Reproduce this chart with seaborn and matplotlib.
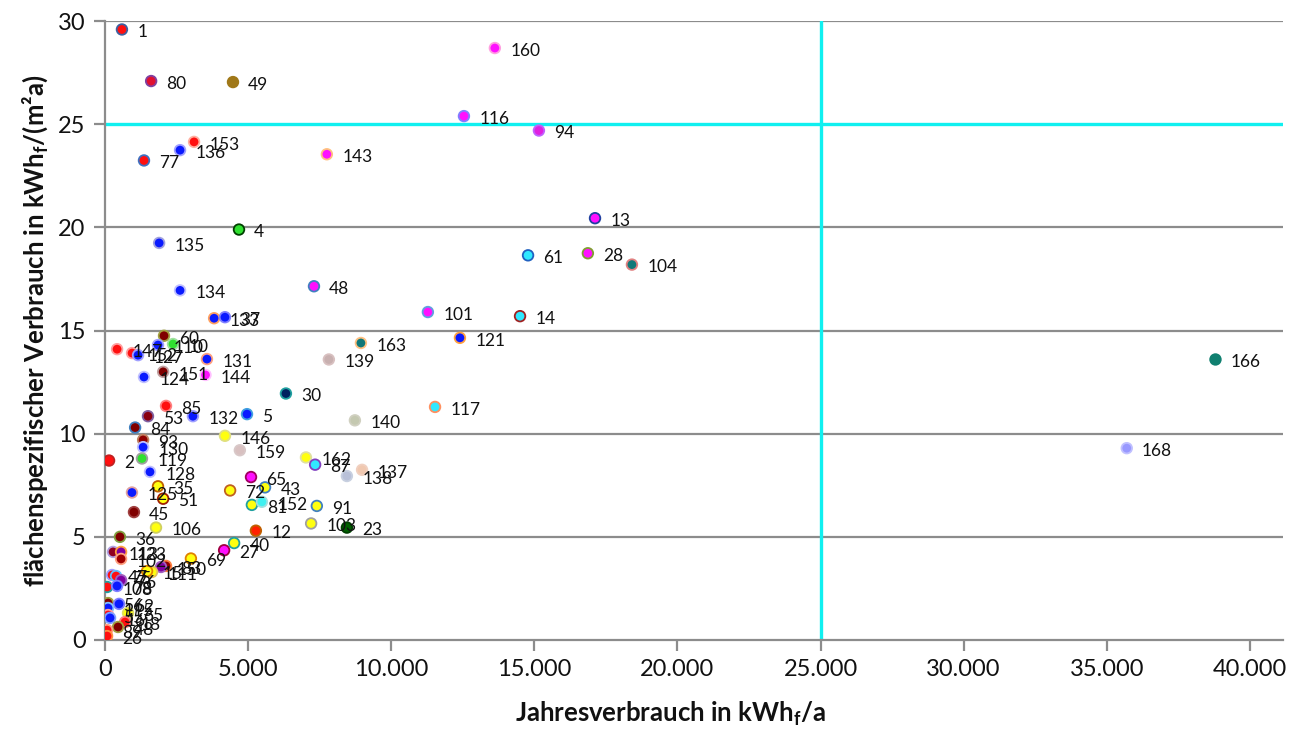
import matplotlib
matplotlib.use("Agg")
import matplotlib.pyplot as plt
import seaborn as sns
import pandas as pd
from matplotlib.ticker import FuncFormatter, MultipleLocator

# ---------------- data ----------------
labels = ["1", "80", "49", "160", "116", "94", "153", "136", "77", "143",
          "4", "135", "13", "61", "28", "104", "134", "48", "133", "37",
          "101", "14", "121", "163", "139", "166", "168", "117", "30", "140",
          "5", "132", "85", "53", "84", "60", "147", "152", "127", "110",
          "10", "131", "124", "151", "144", "146", "159", "93", "130", "2",
          "119", "128", "65", "35", "125", "51", "72", "43", "81", "152",
          "45", "106", "12", "40", "27", "69", "36", "162", "87", "138",
          "137", "91", "103", "23", "113", "123", "102", "83", "150", "111",
          "15", "47", "75", "76", "108", "78", "56", "62", "115", "55",
          "16", "65", "18", "48", "89", "26"]
verbrauch = [590, 1610, 4470, 13620, 12540, 15160, 3110, 2620, 1360, 7750,
             4680, 1890, 17120, 14780, 16870, 18410, 2620, 7300, 3810, 4190,
             11280, 14500, 12400, 8940, 7820, 38800, 35700, 11530, 6320, 8730,
             4960, 3070, 2130, 1500, 1050, 2060, 420, 943, 1153, 1851,
             2375, 3560, 1360, 2030, 3510, 4190, 4710, 1330, 1330, 140,
             1290, 1570, 5100, 1850, 940, 2030, 4370, 5590, 5130, 5480,
             1010, 1780, 5270, 4510, 4160, 3000, 520, 7020, 7340, 8450,
             8980, 7400, 7200, 8450, 280, 560, 560, 2130, 1956, 1640,
             1467, 245, 384, 560, 70, 420, 105, 489, 105, 105,
             175, 803, 699, 454, 70, 70]
spezifisch = [29.6, 27.1, 27.05, 28.7, 25.4, 24.7, 24.15, 23.75, 23.25, 23.55,
              19.9, 19.25, 20.45, 18.65, 18.75, 18.2, 16.95, 17.15, 15.6, 15.65,
              15.9, 15.7, 14.65, 14.4, 13.6, 13.6, 9.3, 11.3, 11.95, 10.65,
              10.95, 10.85, 11.35, 10.85, 10.3, 14.75, 14.1, 13.91, 13.81, 14.3,
              14.35, 13.62, 12.75, 13.0, 12.85, 9.9, 9.2, 9.7, 9.35, 8.7,
              8.8, 8.15, 7.9, 7.45, 7.15, 6.85, 7.25, 7.4, 6.55, 6.7,
              6.2, 5.45, 5.3, 4.7, 4.35, 3.95, 5.0, 8.85, 8.5, 7.95,
              8.25, 6.5, 5.65, 5.45, 4.27, 4.27, 3.93, 3.59, 3.54, 3.3,
              3.34, 3.15, 3.1, 2.9, 2.57, 2.62, 1.79, 1.75, 1.55, 1.21,
              1.07, 1.31, 0.87, 0.63, 0.48, 0.19]

# ---------------- styles ----------------
R, B, M, C, Y, DR = "#ff1010", "#0a1aff", "#ff10ff", "#30e8ff", "#ffff10", "#8a0010"
face = [R, "#e01030", "#a07818", M, M, "#e020e0", R, B, R, M,
        "#30e030", B, M, C, M, "#107878", B, M, B, B,
        M, C, B, "#107878", "#c8b0b0", "#108070", "#9898ff", C, "#002060", "#c4c8b0",
        B, B, R, DR, "#800000", "#800000", R, R, B, B,
        "#30e030", B, B, "#800000", M, Y, "#d8c0c0", "#900000", B, R,
        "#30e030", B, M, Y, B, Y, Y, Y, Y, "#40f0f0",
        "#800000", Y, "#ff2000", Y, M, Y, "#800000", Y, C, "#b8c0d8",
        "#f0c8b0", Y, Y, "#006000", "#900020", "#8000a0", "#a00000", "#900000", "#8000a0", Y,
        Y, R, R, "#8000a0", R, B, "#800000", B, B, R,
        B, Y, R, "#800000", R, R]
edge = ["#4060a0", "#8040a0", "#a07818", "#ffa0e0", "#8080ff", "#c060ff", "#ffb0a0", "#a0a0ff", "#4070c0", "#ffc080",
        "#004000", "#a0a0e0", "#2040a0", "#2060c0", "#80a030", "#e08080", "#c0c0ff", "#4080c0", "#ffa060", "#8080ff",
        "#60a0e0", "#a02020", "#ffa040", "#ffc080", "#d8c0c0", "#108070", "#c0c0ff", "#ff9060", "#20a0a0", "#d0d0c0",
        "#40a0e0", "#a0a0ff", "#ff8080", "#8060a0", "#4080c0", "#a0a040", "#ffa0a0", "#ffa0a0", "#a0a0ff", "#a0a0ff",
        "#a0e0a0", "#ffa080", "#c0c0ff", "#c0a0a0", "#ffc0ff", "#e0e080", "#d8c8c8", "#c08060", "#c0c0ff", "#c02020",
        "#a0a0a0", "#c0c0ff", "#a00060", "#c06000", "#e0a0a0", "#a02000", "#c06020", "#4080c0", "#20a0a0", "#a0e0e0",
        "#a04040", "#d0d060", "#c06000", "#20a0a0", "#a00040", "#e08000", "#80a040", "#e0e0a0", "#8040c0", "#c8d0e0",
        "#f0d0c0", "#4080c0", "#a0a0a0", "#004000", "#b0a0e0", "#ffa040", "#ffa080", "#ff8040", "#a060c0", "#e0c060",
        "#e08000", "#a0a0ff", "#60c0ff", "#a060c0", "#20a0a0", "#8080ff", "#a0a040", "#8080ff", "#80c0ff", "#ffa0a0",
        "#80a0ff", "#e0e060", "#ff8080", "#a0a040", "#ffa080", "#ff9040"]

sns.set_theme(style="white")
plt.rcParams["font.family"] = ["Lato", "DejaVu Sans"]
plt.rcParams["mathtext.fontset"] = "custom"
plt.rcParams["mathtext.rm"] = "Lato"
plt.rcParams["mathtext.bf"] = "Lato:bold"

df = pd.DataFrame({"x": verbrauch, "y": spezifisch,
                   "key": [f"p{i}" for i in range(len(labels))]})
pal = {f"p{i}": face[i] for i in range(len(labels))}

fig = plt.figure(figsize=(12.97, 7.32), dpi=100)
ax = fig.add_axes([0.081, 0.1257, 0.908, 0.8453])

grid_c = "#8c8c8c"
XMAX = 41150
for yv in range(5, 31, 5):
    if yv == 25:
        continue
    ax.plot([0, XMAX], [yv, yv], color=grid_c, lw=1.6, zorder=1, solid_capstyle="butt")
ax.plot([0, XMAX], [25, 25], color="#10f0f0", lw=2.4, zorder=1.5)
ax.plot([25000, 25000], [0, 30], color="#10f0f0", lw=2.4, zorder=1.5)

sns.scatterplot(data=df, x="x", y="y", hue="key", palette=pal, legend=False,
                s=58, edgecolor=edge, linewidth=1.3, ax=ax, zorder=3)

for lab, xv, yv in zip(labels, verbrauch, spezifisch):
    ax.annotate(lab, (xv, yv), xytext=(11, -2), textcoords="offset points",
                ha="left", va="center", fontsize=12.5, color="#111111", zorder=4)

ax.set_xlim(0, XMAX)
ax.set_ylim(0, 30)
ax.xaxis.set_major_locator(MultipleLocator(5000))
ax.yaxis.set_major_locator(MultipleLocator(5))
ax.xaxis.set_major_formatter(FuncFormatter(lambda v, p: f"{int(round(v)):,}".replace(",", ".")))
ax.yaxis.set_major_formatter(FuncFormatter(lambda v, p: f"{int(round(v))}"))
ax.set_xticks([t for t in range(0, 40001, 5000)])

for s in ["top", "right"]:
    ax.spines[s].set_visible(False)
for s in ["left", "bottom"]:
    ax.spines[s].set_color(grid_c)
    ax.spines[s].set_linewidth(1.6)
ax.tick_params(axis="both", which="major", direction="out", length=8, width=1.6,
               color=grid_c, labelsize=17, labelcolor="#111111", left=True, bottom=True)
ax.tick_params(axis="x", pad=6)
ax.tick_params(axis="y", pad=6)

ax.set_xlabel(r"Jahresverbrauch in kWh$_\mathbf{f}$/a", fontsize=18.5, fontweight="bold",
              color="#111111", labelpad=14, x=0.48)
ax.set_ylabel(r"flächenspezifischer Verbrauch in kWh$_\mathbf{f}$/(m²a)", fontsize=18.5,
              fontweight="bold", color="#111111", labelpad=6)
ax.grid(False)

fig.savefig("out.png", dpi=100)
